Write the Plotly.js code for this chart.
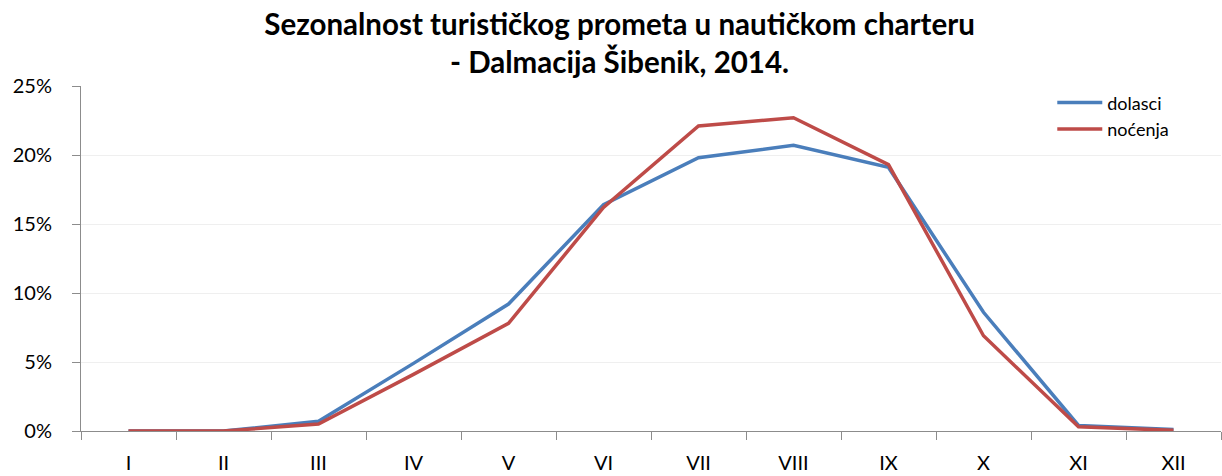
<!DOCTYPE html>
<html>
<head>
<meta charset="utf-8">
<script src="https://cdn.plot.ly/plotly-3.0.1.min.js"></script>
<style>html,body{margin:0;padding:0;background:#fff;}#chart{width:1222px;height:476px;}</style>
</head>
<body>
<div id="chart"></div>
<script>
const months = ["I","II","III","IV","V","VI","VII","VIII","IX","X","XI","XII"];
const dolasci = [0.0, 0.0, 0.7, 4.9, 9.2, 16.4, 19.8, 20.7, 19.1, 8.6, 0.4, 0.1];
const nocenja = [0.0, 0.0, 0.5, 4.1, 7.8, 16.2, 22.1, 22.7, 19.3, 6.9, 0.3, 0.05];
const yTicks = [0, 5, 10, 15, 20, 25];
const yTickText = ["0%", "5%", "10%", "15%", "20%", "25%"];
const titleText = "Sezonalnost turističkog prometa u nautičkom charteru<br>- Dalmacija Šibenik, 2014.";

const font = "Lato, 'Open Sans', sans-serif";
const traces = [
  {x: months, y: dolasci, name: "dolasci", type: "scatter", mode: "lines",
   line: {color: "#4a7ebb", width: 3.5}},
  {x: months, y: nocenja, name: "noćenja", type: "scatter", mode: "lines",
   line: {color: "#be4b48", width: 3.5}}
];
const layout = {
  width: 1222, height: 476,
  margin: {l: 81, r: 1, t: 86, b: 45},
  paper_bgcolor: "#fff", plot_bgcolor: "#fff",
  font: {family: font, color: "#000", size: 20},
  title: {text: titleText, x: 0.507, xref: "container", xanchor: "center",
          yref: "container", y: 0.927, yanchor: "middle",
          font: {family: font, size: 29.5, color: "#000", weight: "bold"}},
  xaxis: {type: "category", range: [-0.5, 11.5], tickson: "boundaries",
          ticks: "outside", ticklen: 8, tickcolor: "#8c8c8c",
          showline: true, linecolor: "#8c8c8c", linewidth: 1, ticklabelstandoff: 14,
          showgrid: false, zeroline: false, tickfont: {size: 20, color: "#000"}},
  yaxis: {range: [0, 25], tickvals: yTicks, ticktext: yTickText,
          ticks: "outside", ticklen: 8, tickcolor: "#8c8c8c", ticklabelstandoff: 16,
          showline: true, linecolor: "#8c8c8c", linewidth: 1,
          showgrid: true, gridcolor: "#efefef", zeroline: false,
          tickfont: {size: 20, color: "#000"}},
  showlegend: true,
  legend: {x: 0.852, y: 1.005, xanchor: "left", yanchor: "top",
           bgcolor: "rgba(255,255,255,0)", font: {size: 18, color: "#000"},
           tracegroupgap: 0, itemwidth: 45}
};
Plotly.newPlot("chart", traces, layout, {displayModeBar: false, staticPlot: true});
</script>
</body>
</html>
